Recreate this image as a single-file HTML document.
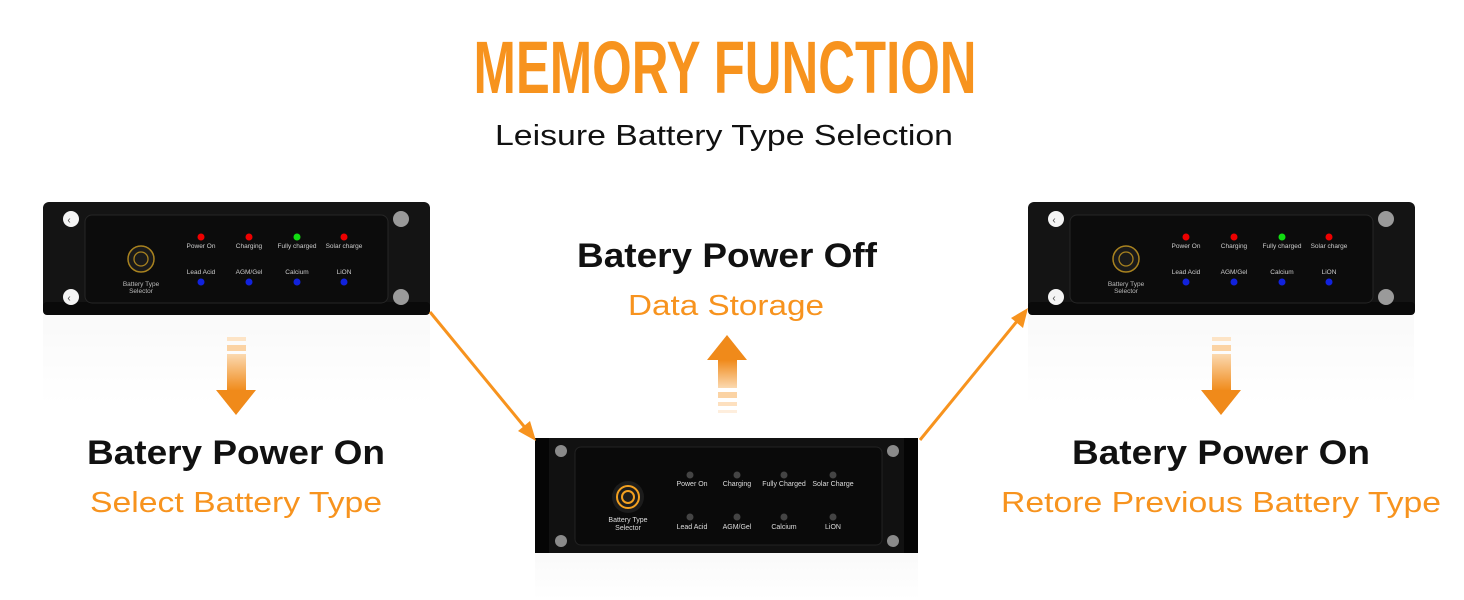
<!DOCTYPE html>
<html><head><meta charset="utf-8"><style>
html,body{margin:0;padding:0;background:#fff;}
svg{display:block;}
text{font-family:"Liberation Sans",sans-serif;}
</style></head><body>
<svg width="1464" height="600" viewBox="0 0 1464 600" xmlns="http://www.w3.org/2000/svg">
<defs>
<linearGradient id="refl" x1="0" y1="0" x2="0" y2="1">
<stop offset="0" stop-color="#efefef"/><stop offset="1" stop-color="#fff"/>
</linearGradient>
<linearGradient id="dar" x1="0" y1="0" x2="0" y2="1">
<stop offset="0" stop-color="#fbd9b0"/><stop offset="1" stop-color="#f08a1a"/>
</linearGradient>
<linearGradient id="uar" x1="0" y1="1" x2="0" y2="0">
<stop offset="0" stop-color="#fbd9b0"/><stop offset="1" stop-color="#f08a1a"/>
</linearGradient>
<g id="dev">
<rect x="0" y="0" width="387" height="113" rx="6" fill="#141414"/>
<rect x="0" y="100" width="387" height="13" rx="4" fill="#0a0a0a"/>
<rect x="42" y="13" width="303" height="88" rx="7" fill="#0c0c0c" stroke="#262626"/>
<circle cx="28" cy="17" r="8" fill="#f4f4f4"/><circle cx="28" cy="95" r="8" fill="#f4f4f4"/>
<circle cx="358" cy="17" r="8" fill="#9a9a9a"/><circle cx="358" cy="95" r="8" fill="#9a9a9a"/>
<text x="26" y="21" font-size="10" fill="#444" text-anchor="middle">‹</text>
<text x="26" y="99" font-size="10" fill="#444" text-anchor="middle">‹</text>
<circle cx="98" cy="57" r="13" fill="#1a1a1a" stroke="#a8821f" stroke-width="1.5"/>
<circle cx="98" cy="57" r="7" fill="none" stroke="#a8821f" stroke-width="1.3"/>
<text x="98" y="84" font-size="6.5" fill="#bbb" text-anchor="middle">Battery Type</text>
<text x="98" y="91" font-size="6.5" fill="#bbb" text-anchor="middle">Selector</text>
<circle cx="158" cy="35" r="3.5" fill="#e00"/><circle cx="206" cy="35" r="3.5" fill="#e00"/>
<circle cx="254" cy="35" r="3.5" fill="#1d1"/><circle cx="301" cy="35" r="3.5" fill="#e00"/>
<g font-size="6.5" fill="#ccc" text-anchor="middle">
<text x="158" y="46">Power On</text><text x="206" y="46">Charging</text>
<text x="254" y="46">Fully charged</text><text x="301" y="46">Solar charge</text>
<text x="158" y="72">Lead Acid</text><text x="206" y="72">AGM/Gel</text>
<text x="254" y="72">Calcium</text><text x="301" y="72">LiON</text>
</g>
<circle cx="158" cy="80" r="3.5" fill="#1122dd"/><circle cx="206" cy="80" r="3.5" fill="#1122dd"/>
<circle cx="254" cy="80" r="3.5" fill="#1122dd"/><circle cx="301" cy="80" r="3.5" fill="#1122dd"/>
</g>
</defs>

<text x="725" y="93" font-family="Liberation Sans Narrow, Liberation Sans, sans-serif" font-weight="bold" font-size="74" fill="#f7931e" text-anchor="middle" textLength="503" lengthAdjust="spacingAndGlyphs">MEMORY FUNCTION</text>
<text x="724" y="145" font-size="29" fill="#111" text-anchor="middle" textLength="458" lengthAdjust="spacingAndGlyphs">Leisure Battery Type Selection</text>

<rect x="43" y="315" width="387" height="90" fill="url(#refl)" opacity="0.35"/>
<rect x="1028" y="315" width="386" height="90" fill="url(#refl)" opacity="0.35"/>
<rect x="535" y="553" width="383" height="47" fill="url(#refl)" opacity="0.35"/>

<use href="#dev" x="43" y="202"/>
<use href="#dev" x="1028" y="202"/>

<g>
<rect x="535" y="438" width="383" height="115" rx="5" fill="#111"/>
<rect x="535" y="438" width="14" height="115" fill="#050505"/>
<rect x="904" y="438" width="14" height="115" fill="#050505"/>
<rect x="575" y="447" width="307" height="98" rx="6" fill="#0a0a0a" stroke="#222"/>
<circle cx="561" cy="451" r="6" fill="#8a8a8a"/><circle cx="561" cy="541" r="6" fill="#8a8a8a"/>
<circle cx="893" cy="451" r="6" fill="#8a8a8a"/><circle cx="893" cy="541" r="6" fill="#8a8a8a"/>
<circle cx="628" cy="497" r="16" fill="#1c1c1c"/>
<circle cx="628" cy="497" r="11" fill="none" stroke="#f2a020" stroke-width="2"/>
<circle cx="628" cy="497" r="6" fill="none" stroke="#f2a020" stroke-width="2"/>
<g font-size="7" fill="#ddd" text-anchor="middle">
<text x="628" y="522">Battery Type</text><text x="628" y="530">Selector</text>
<text x="692" y="486">Power On</text><text x="737" y="486">Charging</text>
<text x="784" y="486">Fully Charged</text><text x="833" y="486">Solar Charge</text>
<text x="692" y="529">Lead Acid</text><text x="737" y="529">AGM/Gel</text>
<text x="784" y="529">Calcium</text><text x="833" y="529">LiON</text>
</g>
<g fill="#444"><circle cx="690" cy="475" r="3.5"/><circle cx="737" cy="475" r="3.5"/><circle cx="784" cy="475" r="3.5"/><circle cx="833" cy="475" r="3.5"/>
<circle cx="690" cy="517" r="3.5"/><circle cx="737" cy="517" r="3.5"/><circle cx="784" cy="517" r="3.5"/><circle cx="833" cy="517" r="3.5"/></g>
</g>

<line x1="430" y1="312" x2="527" y2="430" stroke="#f7931e" stroke-width="3"/>
<polygon points="536,441 518,431 530,421" fill="#f7931e"/>
<line x1="920" y1="440" x2="1018" y2="320" stroke="#f7931e" stroke-width="3"/>
<polygon points="1028,308 1023,328 1011,318" fill="#f7931e"/>

<g>
<rect x="227" y="337" width="19" height="4" fill="#fde4c6"/>
<rect x="227" y="345" width="19" height="6" fill="#fbd3a4"/>
<rect x="227" y="354" width="19" height="37" fill="url(#dar)"/>
<polygon points="216,390 256,390 236,415" fill="#f08a1a"/>
</g>
<g>
<rect x="1212" y="337" width="19" height="4" fill="#fde4c6"/>
<rect x="1212" y="345" width="19" height="6" fill="#fbd3a4"/>
<rect x="1212" y="354" width="19" height="37" fill="url(#dar)"/>
<polygon points="1201,390 1241,390 1221,415" fill="#f08a1a"/>
</g>
<g>
<polygon points="707,360 747,360 727,335" fill="#f08a1a"/>
<rect x="718" y="360" width="19" height="28" fill="url(#uar)"/>
<rect x="718" y="392" width="19" height="6" fill="#fbd3a4"/>
<rect x="718" y="402" width="19" height="4" fill="#fde0bf"/>
<rect x="718" y="410" width="19" height="3" fill="#feeedd"/>
</g>

<g font-weight="bold" font-size="34" fill="#111" text-anchor="middle">
<text x="727" y="267" textLength="300" lengthAdjust="spacingAndGlyphs">Batery Power Off</text>
<text x="236" y="464" textLength="298" lengthAdjust="spacingAndGlyphs">Batery Power On</text>
<text x="1221" y="464" textLength="298" lengthAdjust="spacingAndGlyphs">Batery Power On</text>
</g>
<g font-size="29" fill="#f7931e" text-anchor="middle">
<text x="726" y="315" textLength="196" lengthAdjust="spacingAndGlyphs">Data Storage</text>
<text x="236" y="512" textLength="292" lengthAdjust="spacingAndGlyphs">Select Battery Type</text>
<text x="1221" y="512" textLength="440" lengthAdjust="spacingAndGlyphs">Retore Previous Battery Type</text>
</g>
</svg>
</body></html>
